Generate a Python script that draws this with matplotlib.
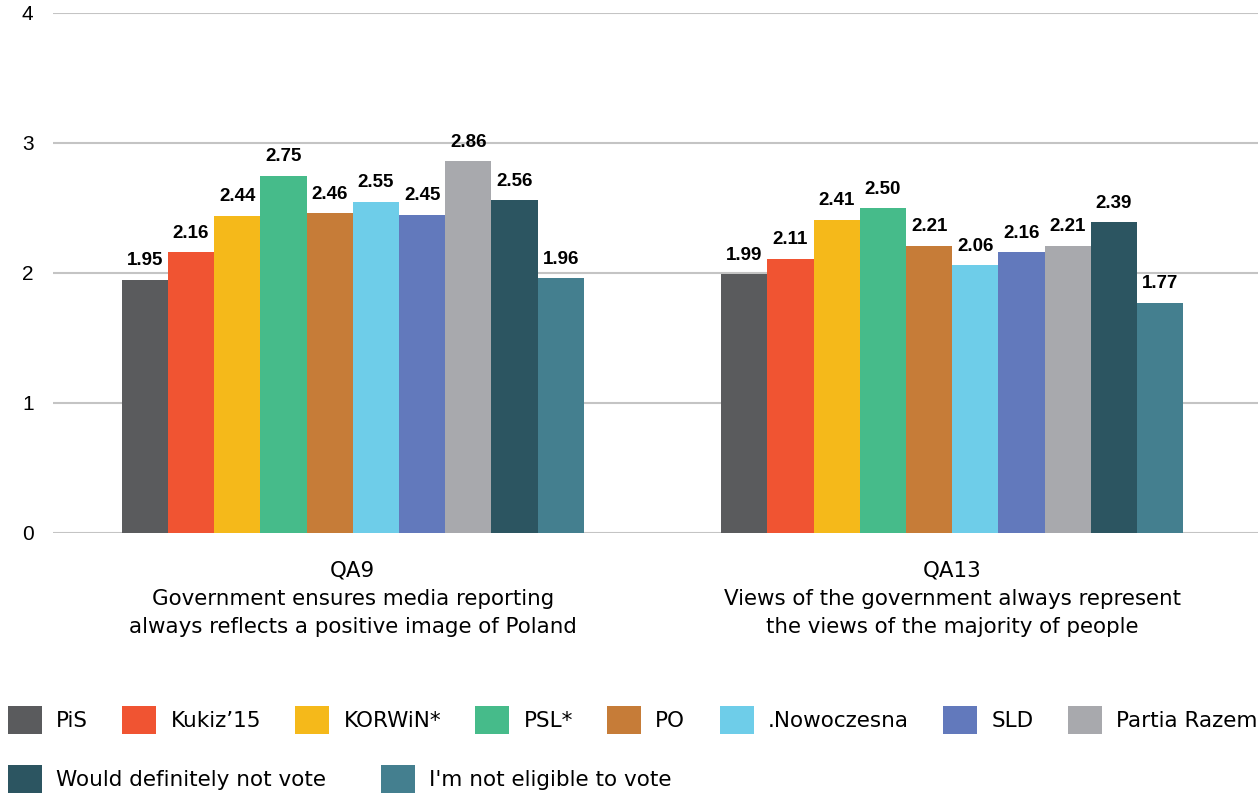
import numpy as np
import matplotlib.pyplot as plt
from matplotlib.patches import Patch

categories = ["QA9\nGovernment ensures media reporting\nalways reflects a positive image of Poland",
              "QA13\nViews of the government always represent\nthe views of the majority of people"]
parties = ["PiS", "Kukiz\u201915", "KORWiN*", "PSL*", "PO", ".Nowoczesna", "SLD", "Partia Razem",
           "Would definitely not vote", "I'm not eligible to vote"]
qa9 = [1.95, 2.16, 2.44, 2.75, 2.46, 2.55, 2.45, 2.86, 2.56, 1.96]
qa13 = [1.99, 2.11, 2.41, 2.50, 2.21, 2.06, 2.16, 2.21, 2.39, 1.77]
colors = ["#5a5b5d", "#f05432", "#f5b91a", "#46bb8a", "#c67c38", "#6ecde9", "#6279bc", "#a8a9ad",
          "#2c5561", "#447f8f"]

plt.rcParams['font.family'] = ['DejaVu Sans']

fig = plt.figure(figsize=(12.6, 7.96), dpi=100)
ax = fig.add_axes([53/1260, 263/796, 1205/1260, 520/796])

values = np.array([qa9, qa13])
x = np.arange(len(categories))
n = len(parties)
w = 0.0771
for i in range(n):
    pos = x + (i - (n - 1) / 2) * w
    ax.bar(pos, values[:, i], width=w, color=colors[i], zorder=3)
    for px, v in zip(pos, values[:, i]):
        ax.text(px, v + 0.08, f"{v:.2f}", ha='center', va='bottom', fontsize=13.5,
                fontweight='bold', family=['Liberation Sans', 'DejaVu Sans'], zorder=4)

ax.set_xlim(-0.5, 1.51)
ax.set_ylim(0, 4)
ax.set_yticks([0, 1, 2, 3, 4])
ax.set_yticklabels(['0', '1', '2', '3', '4'], family=['Liberation Sans', 'DejaVu Sans'], fontsize=15)
ax.yaxis.grid(True, color='#c4c4c4', linewidth=1.5, zorder=0)
ax.set_xticks(x)
ax.set_xticklabels(categories, fontsize=15.4, linespacing=1.5)
ax.tick_params(axis='both', length=0)
ax.tick_params(axis='x', pad=20)
ax.tick_params(axis='y', pad=14)
for s in ax.spines.values():
    s.set_visible(False)

handles = [Patch(facecolor=c, edgecolor='none') for c in colors]
fig.legend(handles[:8], parties[:8], loc='center left', bbox_to_anchor=(8/1260, 76/796),
           ncol=8, frameon=False, fontsize=15.5, handlelength=1.58, handleheight=1.58,
           handletextpad=0.65, columnspacing=1.6, borderpad=0, borderaxespad=0)
fig.legend(handles[8:], parties[8:], loc='center left', bbox_to_anchor=(8/1260, 17/796),
           ncol=2, frameon=False, fontsize=15.5, handlelength=1.58, handleheight=1.58,
           handletextpad=0.65, columnspacing=2.55, borderpad=0, borderaxespad=0)

fig.savefig("out.png", dpi=100)
